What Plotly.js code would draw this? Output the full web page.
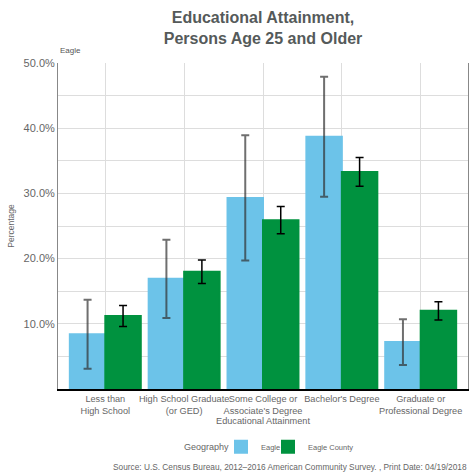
<!DOCTYPE html>
<html>
<head>
<meta charset="utf-8">
<script src="https://cdn.plot.ly/plotly-3.0.1.min.js"></script>
<style>html,body{margin:0;padding:0;background:#fff;}#chart{width:470px;height:474px;}</style>
</head>
<body>
<div id="chart"></div>
<script>
var categories = ["Less than<br>High School", "High School Graduate<br>(or GED)", "Some College or<br>Associate's Degree", "Bachelor's Degree", "Graduate or<br>Professional Degree"];
var eagleValues = [8.4, 16.9, 29.3, 38.7, 7.2];
var eagleMoe = [5.3, 6.0, 9.6, 9.2, 3.5];
var countyValues = [11.2, 18.0, 25.9, 33.3, 12.0];
var countyMoe = [1.6, 1.8, 2.1, 2.2, 1.4];
var yTickVals = [0, 10, 20, 30, 40, 50];
var yTickText = ["", "10.0%", "20.0%", "30.0%", "40.0%", "50.0%"];

var FONT = "Liberation Sans, Arial, sans-serif";
var data = [
  {
    type: "bar", name: "Eagle", x: categories, y: eagleValues, legend: "legend",
    marker: {color: "#6cc3e9", line: {color: "#6cc3e9", width: 2}},
    error_y: {type: "data", array: eagleMoe, visible: true, color: "rgba(50,50,50,0.7)", thickness: 2, width: 4}
  },
  {
    type: "bar", name: "Eagle County", x: categories, y: countyValues, legend: "legend2",
    marker: {color: "#00923f", line: {color: "#00923f", width: 2}},
    error_y: {type: "data", array: countyMoe, visible: true, color: "#000000", thickness: 1.5, width: 4}
  }
];

var legendStyle = function (xp) {
  return {
    orientation: "h", x: xp, xanchor: "left", y: -0.177, yanchor: "middle",
    font: {size: 7.5, color: "#666666"}, itemwidth: 30, bgcolor: "rgba(0,0,0,0)"
  };
};

var layout = {
  width: 470, height: 474,
  margin: {l: 58, r: 2, t: 63, b: 85},
  paper_bgcolor: "#ffffff", plot_bgcolor: "#ffffff",
  font: {family: FONT, color: "#666666"},
  barmode: "group", bargap: 0.1, bargroupgap: 0,
  showlegend: true,
  title: {
    text: "<b>Educational Attainment,<br>Persons Age 25 and Older</b>",
    font: {family: FONT, size: 16, color: "#555a5a"},
    x: 0.5, xref: "paper", xanchor: "center",
    y: 0.952, yref: "container", yanchor: "middle"
  },
  xaxis: {
    type: "category", range: [-0.6, 4.6],
    showgrid: true, gridcolor: "#dddddd", gridwidth: 1,
    showline: true, linecolor: "#000000", linewidth: 2,
    ticks: "", tickangle: 0, tickfont: {size: 9.2, color: "#666666"},
    title: {text: "Educational Attainment", font: {size: 9.2, color: "#666666"}, standoff: 1},
    automargin: false, fixedrange: true
  },
  yaxis: {
    range: [0, 50], tickmode: "array", tickvals: yTickVals, ticktext: yTickText,
    showgrid: true, gridcolor: "#dddddd", gridwidth: 1,
    minor: {tickmode: "linear", tick0: 0, dtick: 5, showgrid: true, gridcolor: "#dddddd", gridwidth: 1, ticks: ""},
    zeroline: false,
    showline: true, linecolor: "#888888", linewidth: 1, mirror: true,
    ticks: "", tickfont: {size: 11, color: "#666666"},
    title: {text: "Percentage", font: {size: 8.5, color: "#666666"}, standoff: 7},
    automargin: true, fixedrange: true
  },
  legend: legendStyle((242 - 21 - 58) / 410),
  legend2: legendStyle((289 - 21 - 58) / 410),
  annotations: [
    {text: "Eagle", xref: "paper", yref: "paper", x: 0, y: 1.039, xanchor: "left", yanchor: "middle",
     showarrow: false, font: {size: 8, color: "#555555"}},
    {text: "Geography", xref: "paper", yref: "paper", x: (231 - 58) / 410, y: -0.177, xanchor: "right", yanchor: "middle",
     showarrow: false, font: {size: 9, color: "#666666"}},
    {text: "Source: U.S. Census Bureau, 2012\u20132016 American Community Survey. , Print Date: 04/19/2018",
     xref: "paper", yref: "paper", x: 1.003, y: -0.239, xanchor: "right", yanchor: "middle",
     showarrow: false, font: {size: 8.3, color: "#666666"}}
  ]
};

Plotly.newPlot("chart", data, layout, {staticPlot: true, displayModeBar: false});
</script>
</body>
</html>
